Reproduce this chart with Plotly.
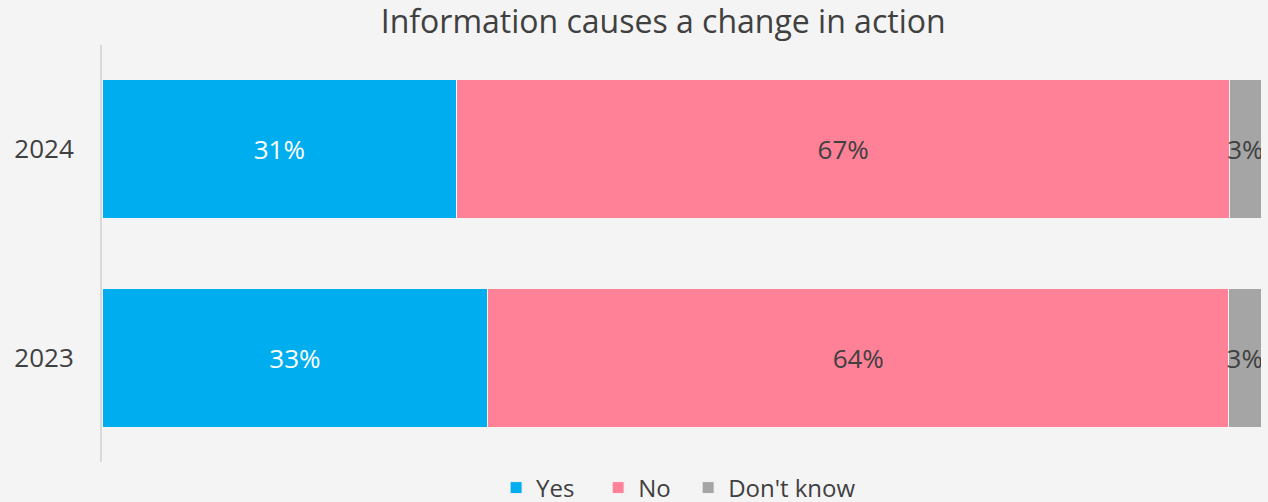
import plotly.graph_objects as go

# Survey shares (percent of respondents)
years = ['2023', '2024']
yes_share = [33.3, 30.6]
no_share = [63.9, 66.7]
dont_know_share = [2.8, 2.7]

# extra room between legend entries
series = [
    ('Yes' + '\u00a0' * 3, yes_share, '#00AEEF', 'white'),
    ('No' + '\u00a0' * 2, no_share, '#FF8198', '#404040'),
    ("Don't know", dont_know_share, '#A5A5A5', '#404040'),
]

fig = go.Figure()
for name, vals, colour, txtcol in series:
    fig.add_trace(go.Bar(
        y=years, x=vals, name=name, orientation='h',
        marker=dict(color=colour, line=dict(color='#f4f4f4', width=1)),
        texttemplate='%{x:.0f}%', textposition='inside', textangle=0,
        insidetextanchor='middle', constraintext='none',
        textfont=dict(color=txtcol, size=26, family='Open Sans'),
        hoverinfo='skip',
    ))

# figure is taller than the window so the legend sits on the bottom edge without
# pushing the plot margins
H = 540
fig.update_layout(
    barmode='stack', bargap=0.333,
    width=1268, height=H,
    margin=dict(l=102, r=7, t=45, b=H - 462),
    paper_bgcolor='#f4f4f4', plot_bgcolor='#f4f4f4',
    font=dict(family='Open Sans', color='#404040'),
    title=dict(text='Information causes a change in action', x=0.523, xanchor='center',
               y=1 - 22 / H, yanchor='middle', font=dict(size=32, color='#404040')),
    legend=dict(orientation='h', x=0.4975, xanchor='center', y=-0.0624, yanchor='middle',
                font=dict(size=24, color='#404040'), traceorder='normal',
                itemwidth=30, bgcolor='rgba(0,0,0,0)'),
    showlegend=True,
)
fig.update_xaxes(range=[0, 100], visible=False)
fig.update_yaxes(type='category', showline=True, linecolor='#d9d9d9', linewidth=2,
                 ticks='', ticklabelstandoff=21, tickfont=dict(size=26, color='#404040'),
                 showgrid=False)

fig.write_html('out.html', config={'displayModeBar': False},
               post_script="document.body.style.margin='0';")
